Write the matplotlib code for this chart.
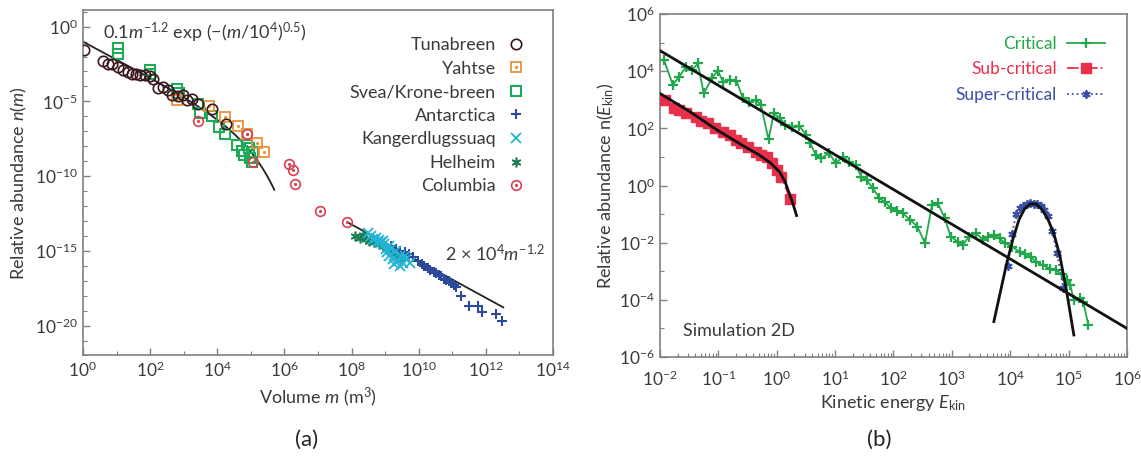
import numpy as np
import matplotlib
matplotlib.use("Agg")
import matplotlib.pyplot as plt
from matplotlib.legend_handler import HandlerTuple

plt.rcParams["font.family"] = ["Lato", "DejaVu Sans"]
plt.rcParams["mathtext.fontset"] = "custom"
plt.rcParams["mathtext.rm"] = "Lato"
plt.rcParams["mathtext.it"] = "Lato:italic"
plt.rcParams["mathtext.fallback"] = "stixsans"

# ---------------- panel (a): log10 values ----------------
tuna_logm = [0.04, 0.59, 0.74, 0.87, 1.04, 1.19, 1.34, 1.47, 1.59, 1.71, 1.84, 1.99,
             2.09, 2.24, 2.39, 2.52, 2.64, 2.84, 2.99, 3.09, 3.24, 3.42, 3.84, 4.27]
tuna_logn = [-1.55, -2.31, -2.49, -2.53, -2.67, -2.93, -3.04, -3.16, -3.2, -3.22, -3.27, -3.33,
             -3.49, -4.09, -4.04, -4.27, -4.6, -4.67, -4.6, -4.93, -4.82, -5.2, -5.53, -6.49]

yahtse_logm = [2.81, 3.74, 4.24, 4.63, 4.9, 5.19, 5.38]
yahtse_logn = [-4.93, -5.33, -6.04, -6.67, -7.16, -7.78, -8.38]

svea_logm = [1.04, 1.04, 2.01, 2.01, 2.79, 2.87, 3.44, 3.49, 3.84, 4.04, 4.24,
             4.59, 4.74, 4.81, 4.89, 4.95, 4.99, 5.04, 5.08]
svea_logn = [-1.45, -1.8, -2.9, -3.2, -4.17, -4.45, -5.16, -5.75, -6.0, -6.71, -7.16,
             -7.93, -8.31, -8.6, -7.93, -8.1, -8.82, -9.04, -8.38]

antarc_logm = [9.18, 9.33, 9.45, 9.58, 9.7, 9.83, 9.99, 10.1, 10.17, 10.28, 10.35, 10.45,
               10.52, 10.6, 10.67, 10.75, 10.82, 10.9, 10.97, 11.05, 11.12, 11.27, 11.5,
               11.77, 11.9, 12.29, 12.48]
antarc_logn = [-14.7, -14.85, -15.0, -15.1, -15.2, -15.4, -15.7, -15.85, -16.04, -16.15, -16.27,
               -16.4, -16.49, -16.6, -16.71, -16.85, -16.93, -17.05, -17.16, -17.3, -17.42,
               -18.0, -18.7, -18.7, -19.1, -19.2, -19.7]

kanger_logm = [8.48, 8.58, 8.73, 8.83, 8.88, 8.98, 9.03, 9.07, 9.13, 9.23, 9.28, 9.38,
               9.43, 9.53, 9.63, 9.73, 9.18, 9.33, 8.93, 8.78, 8.63, 9.43, 9.58, 9.13]
kanger_logn = [-13.82, -14.0, -14.11, -14.27, -14.44, -14.55, -14.89, -15.11, -15.33, -15.55,
               -15.89, -15.67, -16.0, -15.78, -15.55, -15.78, -14.89, -15.0, -14.33, -14.44,
               -14.22, -15.33, -15.33, -14.67]

helheim_logm = [8.09, 8.24, 8.34, 8.44, 8.53, 8.68, 8.83, 8.93, 9.03, 9.18, 9.33, 9.48]
helheim_logn = [-14.0, -14.11, -13.95, -14.22, -14.33, -14.44, -14.55, -14.67, -14.77,
                -15.11, -15.33, -15.55]

columbia_logm = [3.43, 4.89, 5.08, 6.13, 6.26, 6.31, 7.06, 7.88]
columbia_logn = [-6.33, -7.16, -9.04, -9.16, -9.56, -10.53, -12.31, -13.09]

# fit 1: 0.1 m^-1.2 exp(-(m/1e4)^0.5), drawn up to m = 10^5.7
fit1_logm_range = (0.0, 5.7)
# fit 2: straight power law, end points
fit2_logm = [7.88, 12.52]
fit2_logn = [-13.09, -18.78]

# ---------------- panel (b) ----------------
crit_logE = [-1.93, -1.78, -1.67, -1.55, -1.45, -1.35, -1.25, -1.11, -1.01, -0.92, -0.8, -0.69,
             -0.58, -0.47, -0.36, -0.27, -0.14, -0.05, 0.06, 0.15, 0.26, 0.39, 0.5, 0.57,
             0.67, 0.76, 0.9, 1.01, 1.14, 1.23, 1.35, 1.45, 1.54, 1.65, 1.76, 1.85, 1.96,
             2.06, 2.16, 2.29, 2.41, 2.54, 2.66, 2.76, 2.88, 2.98, 3.1, 3.19, 3.29, 3.41,
             3.54, 3.62, 3.72, 3.82, 3.91, 4.03, 4.16, 4.25, 4.35, 4.44, 4.56, 4.69, 4.78,
             4.88, 4.97, 5.03, 5.09, 5.19, 5.25, 5.34]
crit_logn = [4.39, 3.52, 3.81, 4.16, 4.04, 4.27, 3.22, 3.75, 4.02, 3.63, 3.69, 3.67,
             3.05, 2.93, 2.99, 2.82, 1.61, 2.52, 2.35, 2.12, 2.06, 2.08, 1.77, 1.48,
             1.07, 0.95, 1.13, 0.78, 1.01, 0.83, 0.72, 0.31, 0.19, -0.1, -0.45, -0.57, -0.8,
             -0.88, -0.97, -1.21, -1.44, -2.02, -0.68, -0.62, -1.15, -1.79, -1.96, -2.08, -1.79,
             -1.67, -1.9, -1.79, -1.73, -1.85, -2.02, -2.14, -2.32, -2.38, -2.5, -2.67, -2.79,
             -2.91, -2.97, -3.09, -3.32, -3.49, -4.01, -3.95, -4.07, -4.89]

sub_logE = [-1.91, -1.76, -1.67, -1.55, -1.39, -1.3, -1.17, -1.05, -0.92, -0.8, -0.7, -0.61,
            -0.49, -0.36, -0.27, -0.17, -0.08, 0.01, 0.08, 0.23]
sub_logn = [2.99, 2.7, 2.64, 2.52, 2.41, 2.27, 2.18, 2.0, 1.88, 1.77, 1.59, 1.48,
            1.36, 1.18, 1.07, 1.01, 0.78, 0.54, 0.31, -0.48]

super_logE = [3.96, 4.03, 4.1, 4.16, 4.22, 4.28, 4.34, 4.4, 4.46, 4.52, 4.58, 4.64, 4.72, 4.8, 4.91]
super_logn = [-2.8, -1.7, -1.0, -0.8, -0.7, -0.65, -0.62, -0.63, -0.66, -0.72, -0.85, -1.05,
              -1.6, -2.35, -3.6]

critfit_logE = [-2.0, 6.0]
critfit_logn = [4.72, -5.0]

subfit_logE = [-2.0, -1.5, -1.05, -0.6, -0.3, -0.1, 0.05, 0.14, 0.22, 0.28, 0.34]
subfit_logn = [3.22, 2.6, 1.98, 1.42, 1.07, 0.78, 0.47, 0.15, -0.3, -0.65, -1.05]

superfit_logE = [3.72, 3.85, 3.94, 4.05, 4.15, 4.25, 4.35, 4.45, 4.55, 4.65, 4.75, 4.85, 4.97, 5.09]
superfit_logn = [-4.76, -3.55, -2.72, -1.85, -1.2, -0.8, -0.64, -0.65, -0.85, -1.2, -1.7,
                 -2.45, -3.75, -5.23]


def p(v):
    return 10.0 ** np.asarray(v)


TICK_COLOR = "#3a3a3a"
SPINE_COLOR = "#808080"


def style_axes(ax):
    for s in ax.spines.values():
        s.set_color(SPINE_COLOR)
        s.set_linewidth(1.2)
    ax.tick_params(which="both", direction="in", colors=SPINE_COLOR, labelcolor=TICK_COLOR,
                   labelsize=12.5)
    ax.tick_params(which="major", length=5, width=1)
    ax.tick_params(which="minor", length=3, width=0.8)


fig = plt.figure(figsize=(11.41, 4.59), dpi=100)
ax1 = fig.add_axes([0.0727, 0.2255, 0.4119, 0.7527])
ax2 = fig.add_axes([0.5784, 0.2222, 0.4093, 0.7473])

# ---------------- draw (a) ----------------
ax1.set_xscale("log")
ax1.set_yscale("log")

fm = np.logspace(*fit1_logm_range, 300)
ax1.plot(fm, 0.1 * fm ** -1.2 * np.exp(-(fm / 1e4) ** 0.5), color="#222222", lw=1.3, zorder=2)
ax1.plot(p(fit2_logm), p(fit2_logn), color="#222222", lw=1.3, zorder=2)

c_tuna = "#3b1820"
c_yah = "#e8923a"
c_svea = "#1faa5a"
c_ant = "#2c4a9c"
c_kang = "#22b4d4"
c_hel = "#1d7d55"
c_col = "#d9404f"

h_svea = ax1.plot(p(svea_logm), p(svea_logn), ls="none", marker="s", ms=7.5, mfc="none",
                  mec=c_svea, mew=1.5, zorder=3)[0]
h_yah = ax1.plot(p(yahtse_logm), p(yahtse_logn), ls="none", marker="s", ms=7.5, mfc="none",
                 mec=c_yah, mew=1.3, zorder=3)[0]
h_yah_d = ax1.plot(p(yahtse_logm), p(yahtse_logn), ls="none", marker=".", ms=2.5,
                   color=c_yah, zorder=3)[0]
h_tuna = ax1.plot(p(tuna_logm), p(tuna_logn), ls="none", marker="o", ms=7.5, mfc="none",
                  mec=c_tuna, mew=1.2, zorder=4)[0]
h_col = ax1.plot(p(columbia_logm), p(columbia_logn), ls="none", marker="o", ms=7, mfc="none",
                 mec=c_col, mew=1.2, zorder=4)[0]
h_col_d = ax1.plot(p(columbia_logm), p(columbia_logn), ls="none", marker=".", ms=2.5,
                   color=c_col, zorder=4)[0]
h_hel = ax1.plot(p(helheim_logm), p(helheim_logn), ls="none", marker=(6, 2, 0), ms=7,
                 mew=1.2, color=c_hel, zorder=3)[0]
h_kang = ax1.plot(p(kanger_logm), p(kanger_logn), ls="none", marker="x", ms=6.5,
                  mew=1.3, color=c_kang, zorder=4)[0]
h_ant = ax1.plot(p(antarc_logm), p(antarc_logn), ls="none", marker="+", ms=7.5,
                 mew=1.5, color=c_ant, zorder=3)[0]

ax1.set_xlim(1e0, 1e14)
ax1.set_ylim(1e-22, 10 ** 1.11)
ax1.set_xticks(p(np.arange(0, 15, 2)))
ax1.set_xticks(p(np.arange(1, 14, 2)), minor=True)
ax1.set_yticks(p(np.arange(-20, 1, 5)))
ax1.set_yticks(p(np.arange(-22, 2, 1)), minor=True)
ax1.xaxis.set_minor_formatter(plt.NullFormatter())
ax1.yaxis.set_minor_formatter(plt.NullFormatter())
style_axes(ax1)

ax1.set_xlabel("Volume $m$ (m$^3$)", fontsize=13, color=TICK_COLOR, labelpad=4)
ax1.set_ylabel("Relative abundance $n(m)$", fontsize=13, color=TICK_COLOR, labelpad=4)

ax1.text(0.043, 0.935, r"0.1$m^{-1.2}$ exp (−($m$/10$^4$)$^{0.5}$)", transform=ax1.transAxes,
         fontsize=13, color=TICK_COLOR, va="center", ha="left")
ax1.text(0.77, 0.296, r"2 × 10$^4$$m^{-1.2}$", transform=ax1.transAxes,
         fontsize=13, color=TICK_COLOR, va="center", ha="left")

leg1 = ax1.legend([h_tuna, (h_yah, h_yah_d), h_svea, h_ant, h_kang, h_hel, (h_col, h_col_d)],
                  ["Tunabreen", "Yahtse", "Svea/Krone-breen", "Antarctica",
                   "Kangerdlugssuaq", "Helheim", "Columbia"],
                  handler_map={tuple: HandlerTuple(ndivide=1)},
                  loc="upper right", markerfirst=False, frameon=False, fontsize=13,
                  handlelength=1.0, handletextpad=0.6, labelspacing=0.42,
                  borderaxespad=0.9, bbox_to_anchor=(0.99, 0.99))
for t in leg1.get_texts():
    t.set_color(TICK_COLOR)

# ---------------- draw (b) ----------------
ax2.set_xscale("log")
ax2.set_yscale("log")

c_crit = "#22a84a"
c_sub = "#e8304a"
c_sup = "#3a4fa6"

ax2.plot(p(crit_logE), p(crit_logn), color=c_crit, lw=1.3, marker="+", ms=7, mew=1.6,
         zorder=3, label="Critical")
ax2.plot(p(sub_logE), p(sub_logn), color=c_sub, lw=1.3, ls="-.", marker="s", ms=7,
         zorder=3, label="Sub-critical")
ax2.plot(p(super_logE), p(super_logn), color=c_sup, lw=1.3, ls=":", marker=(6, 2, 0), ms=6,
         mew=1.3, zorder=3, label="Super-critical")

ax2.plot(p(critfit_logE), p(critfit_logn), color="#111111", lw=2.0, zorder=4)
ax2.plot(p(subfit_logE), p(subfit_logn), color="#111111", lw=2.0, zorder=4)
ax2.plot(p(superfit_logE), p(superfit_logn), color="#111111", lw=2.0, zorder=4)

ax2.set_xlim(1e-2, 1e6)
ax2.set_ylim(1e-6, 1e6)
ax2.set_xticks(p(np.arange(-2, 7, 1)))
ax2.xaxis.set_minor_locator(matplotlib.ticker.LogLocator(base=10, subs=np.arange(2, 10), numticks=20))
ax2.set_yticks(p(np.arange(-6, 7, 2)))
ax2.set_yticks(p(np.arange(-5, 6, 2)), minor=True)
ax2.xaxis.set_minor_formatter(plt.NullFormatter())
ax2.yaxis.set_minor_formatter(plt.NullFormatter())
style_axes(ax2)
ax2.tick_params(axis="x", which="major", pad=9)

ax2.set_xlabel("Kinetic energy $E_{\\mathrm{kin}}$", fontsize=13, color=TICK_COLOR, labelpad=3)
ax2.set_ylabel("Relative abundance n($E_{\\mathrm{kin}}$)", fontsize=13, color=TICK_COLOR,
               labelpad=2)
ax2.text(0.05, 0.075, "Simulation 2D", transform=ax2.transAxes, fontsize=13,
         color=TICK_COLOR, va="center", ha="left")

leg2 = ax2.legend(loc="upper right", markerfirst=False, frameon=False, fontsize=12.5,
                  handlelength=2.2, handletextpad=0.6, labelspacing=0.55,
                  borderaxespad=0.85, labelcolor="linecolor")

fig.text(0.269, 0.041, "(a)", fontsize=16, ha="center", va="center", color="#222222")
fig.text(0.771, 0.041, "(b)", fontsize=16, ha="center", va="center", color="#222222")

fig.savefig("out.png", dpi=100)
